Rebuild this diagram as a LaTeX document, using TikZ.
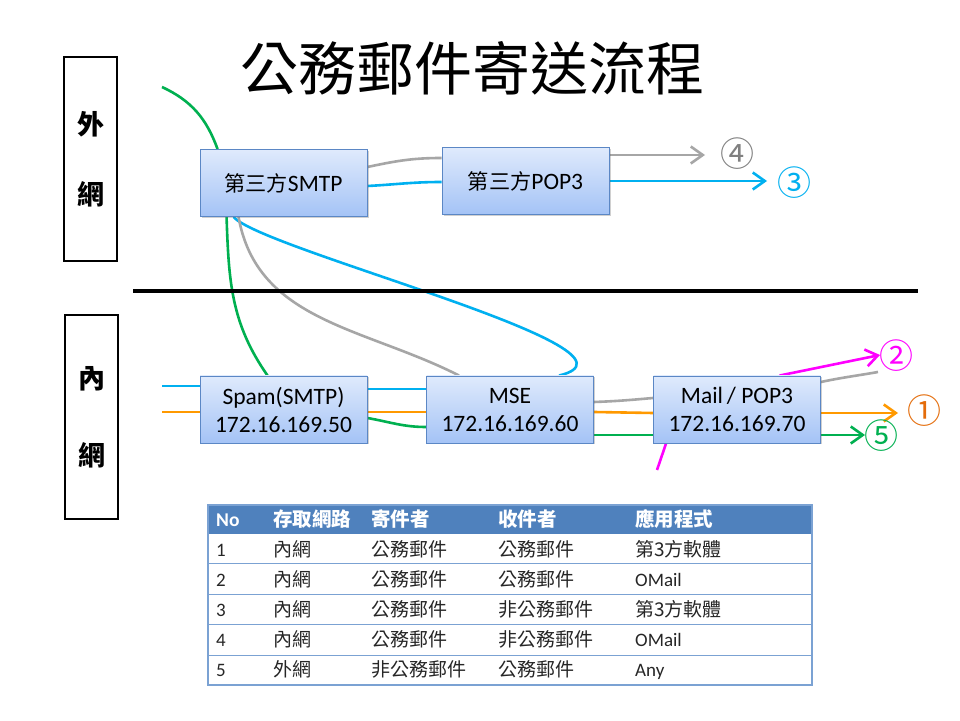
\documentclass[tikz,border=0pt]{standalone}
\usepackage{fontspec}
\setmainfont{Carlito}
\newfontfamily\cjk{Noto Sans CJK TC}
\newfontfamily\cjksmall[Scale=0.9]{Noto Sans CJK TC}
\usetikzlibrary{arrows.meta, shadows, backgrounds}
\definecolor{flowgreen}{HTML}{00B050}
\definecolor{flowblue}{HTML}{00B0F0}
\definecolor{floworange}{HTML}{FF9900}
\definecolor{flowgray}{HTML}{A6A6A6}
\definecolor{flowpink}{HTML}{FF00FF}
\definecolor{numorange}{HTML}{E46C0A}
\definecolor{boxedge}{HTML}{5B87C5}
\definecolor{boxtop}{HTML}{DFEAFC}
\definecolor{boxbot}{HTML}{A4C3F6}
\definecolor{tabhead}{HTML}{4F81BD}
\definecolor{tabline}{HTML}{7BA2D3}
\tikzset{
  server/.style={draw=boxedge, line width=0.9pt, top color=boxtop, bottom color=boxbot,
    minimum width=167pt, minimum height=67pt, align=center,
    font=\fontsize{23.5}{28}\selectfont,
    drop shadow={shadow xshift=1.5pt, shadow yshift=-1.5pt, opacity=0.3, fill=black!60}},
  zone/.style={draw, line width=1.4pt, minimum width=53pt, minimum height=204pt, align=center},
  flow/.style={line width=2.6pt},
  arrowed/.style={-{Straight Barb[length=12pt,width=17pt]}},
  circnum/.style={font=\cjk\fontsize{34}{36}\selectfont, inner sep=0pt},
  cell/.style={anchor=base west, inner sep=0pt, text=black!85, font=\fontsize{19}{22}\selectfont},
  headcell/.style={cell, text=white, font=\fontsize{19.5}{22}\selectfont\bfseries},
}
\newcommand{\zh}[1]{{\cjk #1}}
\begin{document}
\begin{tikzpicture}[x=1pt, y=1pt]
\useasboundingbox (0,0) rectangle (960,720);
% title and zones
\node[font=\cjk\fontsize{58}{60}\selectfont] (title) at (472,652) {公務郵件寄送流程};
\node[zone, font=\cjk\bfseries\fontsize{27}{70}\selectfont] (outnet) at (90.5,561) {外\\網};
\node[zone, font=\cjk\bfseries\fontsize{27}{77}\selectfont] (innet) at (91.5,303) {內\\網};
\draw[line width=3.5pt] (133,429) -- (918,429);
% servers
\node[server] (smtp3) at (283.5,537) {{\cjksmall 第三方}SMTP};
\node[server] (pop3) at (525.5,539) {{\cjksmall 第三方}POP3};
\node[server] (spam) at (283.5,310.5) {Spam(SMTP)\\172.16.169.50};
\node[server] (mse) at (510,310.5) {MSE\\172.16.169.60};
\node[server] (mail) at (737,310.5) {Mail\,/ POP3\\172.16.169.70};
% free ends
\coordinate (gin) at (162,633);
\coordinate (bin) at (162,334);
\coordinate (oin) at (162,308);
\coordinate (pin) at (657,250);
\coordinate (grayend) at (878,348);
\coordinate (tip1) at (898,307);
\coordinate (tip2) at (880,365);
\coordinate (tip3) at (767,539);
\coordinate (tip4) at (705,565);
\coordinate (tip5) at (865,285);
% numbers
\node[circnum, text=numorange] (n1) at (924.5,309) {①};
\node[circnum, text=flowpink] (n2) at (896.5,364) {②};
\node[circnum, text=flowblue] (n3) at (794,537) {③};
\node[circnum, text=black!50] (n4) at (737,566) {④};
\node[circnum, text=flowgreen] (n5) at (881,284) {⑤};
\begin{scope}[on background layer]
\fill[white] (0,0) rectangle (960,720);
% green
\draw[flow, flowgreen] (gin) to[out=-25, in=110] ([xshift=18pt]smtp3.north west);
\draw[flow, flowgreen] ([xshift=27pt]smtp3.south west) to[out=-88, in=125] ([xshift=68pt]spam.north west);
\draw[flow, flowgreen] ([yshift=-8.5pt]spam.east) to[out=-10, in=180] ([yshift=-17.5pt]mse.west);
\draw[flow, flowgreen] ([yshift=-25.5pt]mse.east) -- ([yshift=-25.5pt]mail.west);
\draw[flow, flowgreen, arrowed] ([yshift=-25.5pt]mail.east) -- (tip5);
% orange
\draw[flow, floworange] (oin) -- ([yshift=-2.5pt]spam.west);
\draw[flow, floworange] ([yshift=-2.5pt]spam.east) -- ([yshift=-2.5pt]mse.west);
\draw[flow, floworange] ([yshift=-2.5pt]mse.east) -- ([yshift=-3.5pt]mail.west);
\draw[flow, floworange, arrowed] ([yshift=-3.5pt]mail.east) -- (tip1);
% blue
\draw[flow, flowblue] (bin) -- ([yshift=23.5pt]spam.west);
\draw[flow, flowblue] ([yshift=20.5pt]spam.east) -- ([yshift=20.5pt]mse.west);
\draw[flow, flowblue] ([xshift=34pt]smtp3.south west) .. controls (262,470) and (665,370) .. ([xshift=133pt]mse.north west);
\draw[flow, flowblue] ([yshift=-3pt]smtp3.east) to[out=3, in=180] ([yshift=-1pt]pop3.west);
\draw[flow, flowblue, arrowed] (pop3.east) -- (tip3);
% gray
\draw[flow, flowgray] ([xshift=39pt]smtp3.south west) to[out=-80, in=153] ([xshift=33pt]mse.north west);
\draw[flow, flowgray] ([yshift=16pt]smtp3.east) to[out=12, in=180] ([yshift=23pt]pop3.west);
\draw[flow, flowgray, arrowed] ([yshift=26pt]pop3.east) -- (tip4);
\draw[flow, flowgray] ([yshift=7.5pt]mse.east) to[out=2, in=185] ([yshift=11.5pt]mail.west);
\draw[flow, flowgray] ([yshift=27.5pt]mail.east) to[out=12, in=190] (grayend);
% pink
\draw[flow, flowpink] (pin) -- ([xshift=13pt]mail.south west);
\draw[flow, flowpink, arrowed] ([xshift=126.5pt]mail.north west) -- (tip2);
\end{scope}
% table
\fill[tabhead] (208,215) rectangle (812,186);
\foreach \y in {156,126,96,65}
  \draw[tabline, line width=1pt] (208,\y) -- (812,\y);
\draw[tabline, line width=1.2pt] (208,215) rectangle (812,35);
\node[headcell] (hno) at (216,193) {No};
\node[headcell] (hnet) at (273,193) {\zh{存取網路}};
\node[headcell] (hsnd) at (371,193) {\zh{寄件者}};
\node[headcell] (hrcv) at (498,193) {\zh{收件者}};
\node[headcell] (happ) at (635,193) {\zh{應用程式}};
\foreach \n/\net/\snd/\rcv/\app [count=\r] in {1/內網/公務郵件/公務郵件/\zh{第3方軟體},
    2/內網/公務郵件/公務郵件/OMail, 3/內網/公務郵件/非公務郵件/\zh{第3方軟體},
    4/內網/公務郵件/非公務郵件/OMail, 5/外網/非公務郵件/公務郵件/Any}{
  \pgfmathsetmacro\y{164-30*(\r-1)}
  \node[cell] (no\r) at (216,\y) {\n};
  \node[cell] (net\r) at (273,\y) {\zh{\net}};
  \node[cell] (snd\r) at (371,\y) {\zh{\snd}};
  \node[cell] (rcv\r) at (498,\y) {\zh{\rcv}};
  \node[cell] (app\r) at (635,\y) {\app};
}
\end{tikzpicture}
\end{document}
